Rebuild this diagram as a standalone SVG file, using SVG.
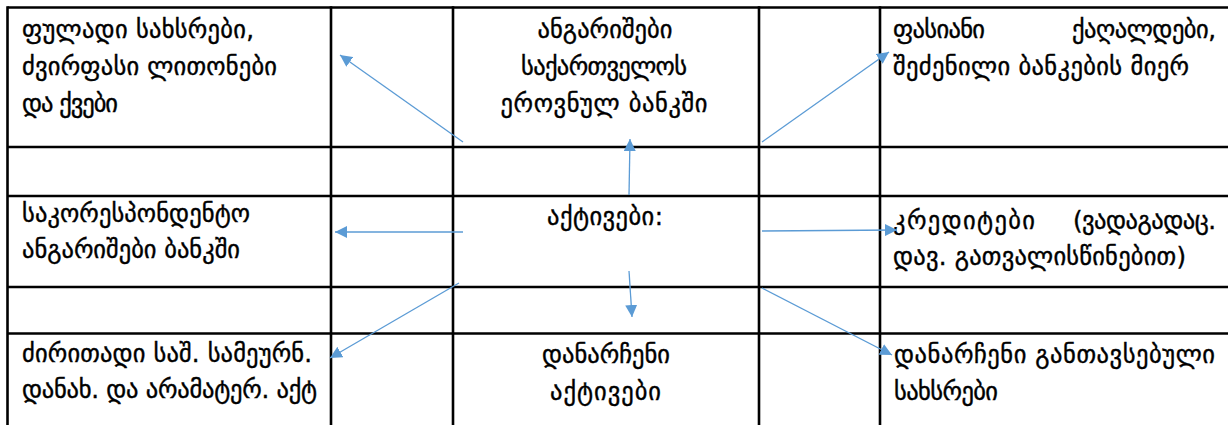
<svg xmlns="http://www.w3.org/2000/svg" width="1228" height="425" viewBox="0 0 1228 425">
<style>
.grid line{stroke:#000;stroke-width:2.6}
.t{font-family:"DejaVu Sans",sans-serif;font-size:24.5px;fill:#000;stroke:#000;stroke-width:0.4}
.m{text-anchor:middle}
.c{stroke:#5B9BD5;stroke-width:1.3;fill:none}
</style>
<defs>
<marker id="ah" viewBox="0 0 10 10" refX="10" refY="5" markerWidth="12" markerHeight="12" markerUnits="userSpaceOnUse" orient="auto">
<path d="M0,0 L10,5 L0,10 z" fill="#5B9BD5"/>
</marker>
</defs>
<rect width="1228" height="425" fill="#fff"/>
<g class="grid">
<line x1="7.5" y1="7.5" x2="1228" y2="7.5"/>
<line x1="7.5" y1="147" x2="1228" y2="147"/>
<line x1="7.5" y1="196" x2="1228" y2="196"/>
<line x1="7.5" y1="287" x2="1228" y2="287"/>
<line x1="7.5" y1="333.5" x2="1228" y2="333.5"/>
<line x1="7.5" y1="6.2" x2="7.5" y2="425"/>
<line x1="331" y1="6.2" x2="331" y2="425"/>
<line x1="453" y1="6.2" x2="453" y2="425"/>
<line x1="759" y1="6.2" x2="759" y2="425"/>
<line x1="880" y1="6.2" x2="880" y2="425"/>
</g>
<g id="n1"><text class="t" x="22" y="38" textLength="232">ფულადი სახსრები,</text><text class="t" x="22" y="75" textLength="255">ძვირფასი ლითონები</text><text class="t" x="22" y="112" textLength="96">და ქვები</text></g>
<g id="n2"><text class="t m" x="605" y="38" textLength="135">ანგარიშები</text><text class="t m" x="604" y="75" textLength="166">საქართველოს</text><text class="t m" x="604" y="112" textLength="207">ეროვნულ  ბანკში</text></g>
<g id="n3"><text class="t" x="893" y="38" textLength="92">ფასიანი</text><text class="t" x="1072" y="38" textLength="144">ქაღალდები,</text><text class="t" x="893" y="75" textLength="296">შეძენილი ბანკების მიერ</text></g>
<g id="n4"><text class="t" x="22" y="222" textLength="228">საკორესპონდენტო</text><text class="t" x="22" y="258" textLength="218">ანგარიშები ბანკში</text></g>
<g id="n5"><text class="t m" x="605" y="225" textLength="116">აქტივები:</text></g>
<g id="n6"><text class="t" x="893" y="229" textLength="142">კრედიტები</text><text class="t" x="1073" y="229" textLength="143">(ვადაგადაც.</text><text class="t" x="893" y="265" textLength="293">დავ. გათვალისწინებით)</text></g>
<g id="n7"><text class="t" x="22" y="362" textLength="290">ძირითადი საშ. სამეურნ.</text><text class="t" x="22" y="398" textLength="295">დანახ. და არამატერ. აქტ</text></g>
<g id="n8"><text class="t m" x="606" y="363" textLength="128">დანარჩენი</text><text class="t m" x="605.5" y="400" textLength="111">აქტივები</text></g>
<g id="n9"><text class="t" x="894" y="363" textLength="321">დანარჩენი  განთავსებული</text><text class="t" x="894" y="400" textLength="104">სახსრები</text></g>
<g id="connectors">
<line class="c" x1="463" y1="142" x2="340" y2="55" marker-end="url(#ah)"/>
<line class="c" x1="629" y1="195" x2="630" y2="139" marker-end="url(#ah)"/>
<line class="c" x1="762" y1="142" x2="889" y2="52" marker-end="url(#ah)"/>
<line class="c" x1="463" y1="232" x2="335" y2="232" marker-end="url(#ah)"/>
<line class="c" x1="762" y1="231" x2="897" y2="230" marker-end="url(#ah)"/>
<line class="c" x1="629" y1="271" x2="632" y2="317" marker-end="url(#ah)"/>
<line class="c" x1="459" y1="283" x2="330" y2="358" marker-end="url(#ah)"/>
<line class="c" x1="762" y1="288" x2="892" y2="355" marker-end="url(#ah)"/>
</g>
</svg>
